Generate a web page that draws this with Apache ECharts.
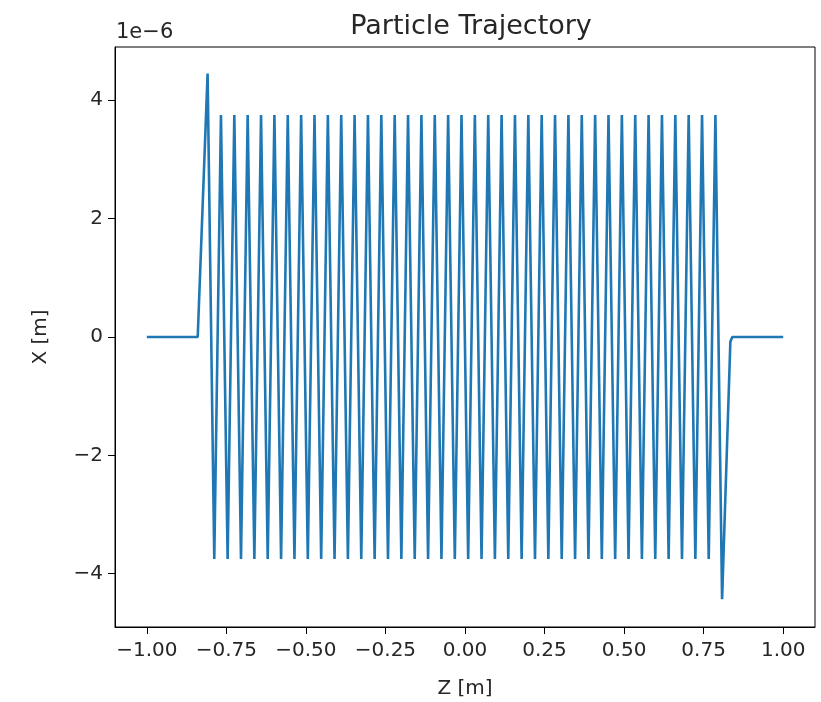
<!DOCTYPE html>
<html>
<head>
<meta charset="utf-8">
<script src="https://cdn.jsdelivr.net/npm/echarts@6/dist/echarts.min.js"></script>
<style>
html,body{margin:0;padding:0;background:#fff;}
#chart{width:821px;height:702px;}
</style>
</head>
<body>
<div id="chart"></div>
<script>
// X values are in units of 1e-6 m (axis offset text "1e−6")
// Lead-in (flat before undulator)
const zLead = [-1.0, -0.84];
const xLead = [0, 0];
// Turning points of the oscillation
const zTurn = [-0.809, -0.788, -0.767, -0.746, -0.725, -0.704, -0.683, -0.662, -0.641, -0.620,
  -0.599, -0.578, -0.557, -0.536, -0.515, -0.494, -0.473, -0.452, -0.431, -0.410,
  -0.389, -0.368, -0.347, -0.326, -0.305, -0.284, -0.263, -0.242, -0.221, -0.200,
  -0.179, -0.158, -0.137, -0.116, -0.095, -0.074, -0.053, -0.032, -0.011, 0.010,
  0.031, 0.052, 0.073, 0.094, 0.115, 0.136, 0.157, 0.178, 0.199, 0.220,
  0.241, 0.262, 0.283, 0.304, 0.325, 0.346, 0.367, 0.388, 0.409, 0.430,
  0.451, 0.472, 0.493, 0.514, 0.535, 0.556, 0.577, 0.598, 0.619, 0.640,
  0.661, 0.682, 0.703, 0.724, 0.745, 0.766, 0.787, 0.808];
const xTurn = [4.45, -3.75, 3.75, -3.75, 3.75, -3.75, 3.75, -3.75, 3.75, -3.75,
  3.75, -3.75, 3.75, -3.75, 3.75, -3.75, 3.75, -3.75, 3.75, -3.75,
  3.75, -3.75, 3.75, -3.75, 3.75, -3.75, 3.75, -3.75, 3.75, -3.75,
  3.75, -3.75, 3.75, -3.75, 3.75, -3.75, 3.75, -3.75, 3.75, -3.75,
  3.75, -3.75, 3.75, -3.75, 3.75, -3.75, 3.75, -3.75, 3.75, -3.75,
  3.75, -3.75, 3.75, -3.75, 3.75, -3.75, 3.75, -3.75, 3.75, -3.75,
  3.75, -3.75, 3.75, -3.75, 3.75, -3.75, 3.75, -3.75, 3.75, -3.75,
  3.75, -3.75, 3.75, -3.75, 3.75, -3.75, 3.75, -4.43];
// Tail (flat after undulator)
const zTail = [0.834, 0.84, 1.0];
const xTail = [-0.08, 0, 0];

const xTicks = [-1.0, -0.75, -0.5, -0.25, 0, 0.25, 0.5, 0.75, 1.0];
const yTicks = [-4, -2, 0, 2, 4];

const zAll = zLead.concat(zTurn, zTail);
const xAll = xLead.concat(xTurn, xTail);
const data = zAll.map((z, i) => [z, xAll[i]]);

const FONT = 'DejaVu Sans';
const TXT = '#262626';
const fmtMinus = s => s.replace('-', '\u2212');

const chart = echarts.init(document.getElementById('chart'), null, {renderer: 'canvas'});
chart.setOption({
  animation: false,
  backgroundColor: '#ffffff',
  title: {
    text: 'Particle Trajectory',
    left: 466, top: 8, textAlign: 'center',
    textStyle: {fontFamily: FONT, fontSize: 27, fontWeight: 'normal', color: TXT}
  },
  graphic: [{
    type: 'text', left: 116, top: 22,
    style: {text: '1e\u22126', fontFamily: FONT, fontSize: 21, fill: TXT}
  }],
  grid: {left: 115, right: 6, top: 47, bottom: 75, show: true, borderColor: '#000', borderWidth: 1,
    backgroundColor: 'transparent', containLabel: false, outerBoundsMode: 'none'},
  xAxis: {
    type: 'value', min: -1.1, max: 1.1,
    name: 'Z [m]', nameLocation: 'middle', nameGap: 52,
    nameTextStyle: {fontFamily: FONT, fontSize: 20, color: TXT},
    axisLine: {show: true, onZero: false, lineStyle: {color: '#000', width: 1}},
    axisTick: {show: true, inside: false, length: 7, customValues: xTicks, lineStyle: {color: '#000'}},
    axisLabel: {customValues: xTicks, margin: 14, fontFamily: FONT, fontSize: 20, color: TXT,
      formatter: v => fmtMinus(Number(v).toFixed(2))},
    splitLine: {show: false}
  },
  yAxis: {
    type: 'value', min: -4.9, max: 4.9,
    name: 'X [m]', nameLocation: 'middle', nameGap: 64, nameRotate: 90,
    nameTextStyle: {fontFamily: FONT, fontSize: 20, color: TXT},
    axisLine: {show: true, onZero: false, lineStyle: {color: '#000', width: 1}},
    axisTick: {show: true, inside: false, length: 7, customValues: yTicks, lineStyle: {color: '#000'}},
    axisLabel: {customValues: yTicks, margin: 12, fontFamily: FONT, fontSize: 20, color: TXT,
      formatter: v => fmtMinus(String(v))},
    splitLine: {show: false}
  },
  series: [{
    type: 'line', data: data, showSymbol: false, symbol: 'none',
    lineStyle: {color: '#1f77b4', width: 2.6},
    clip: true
  }]
});
</script>
</body>
</html>
